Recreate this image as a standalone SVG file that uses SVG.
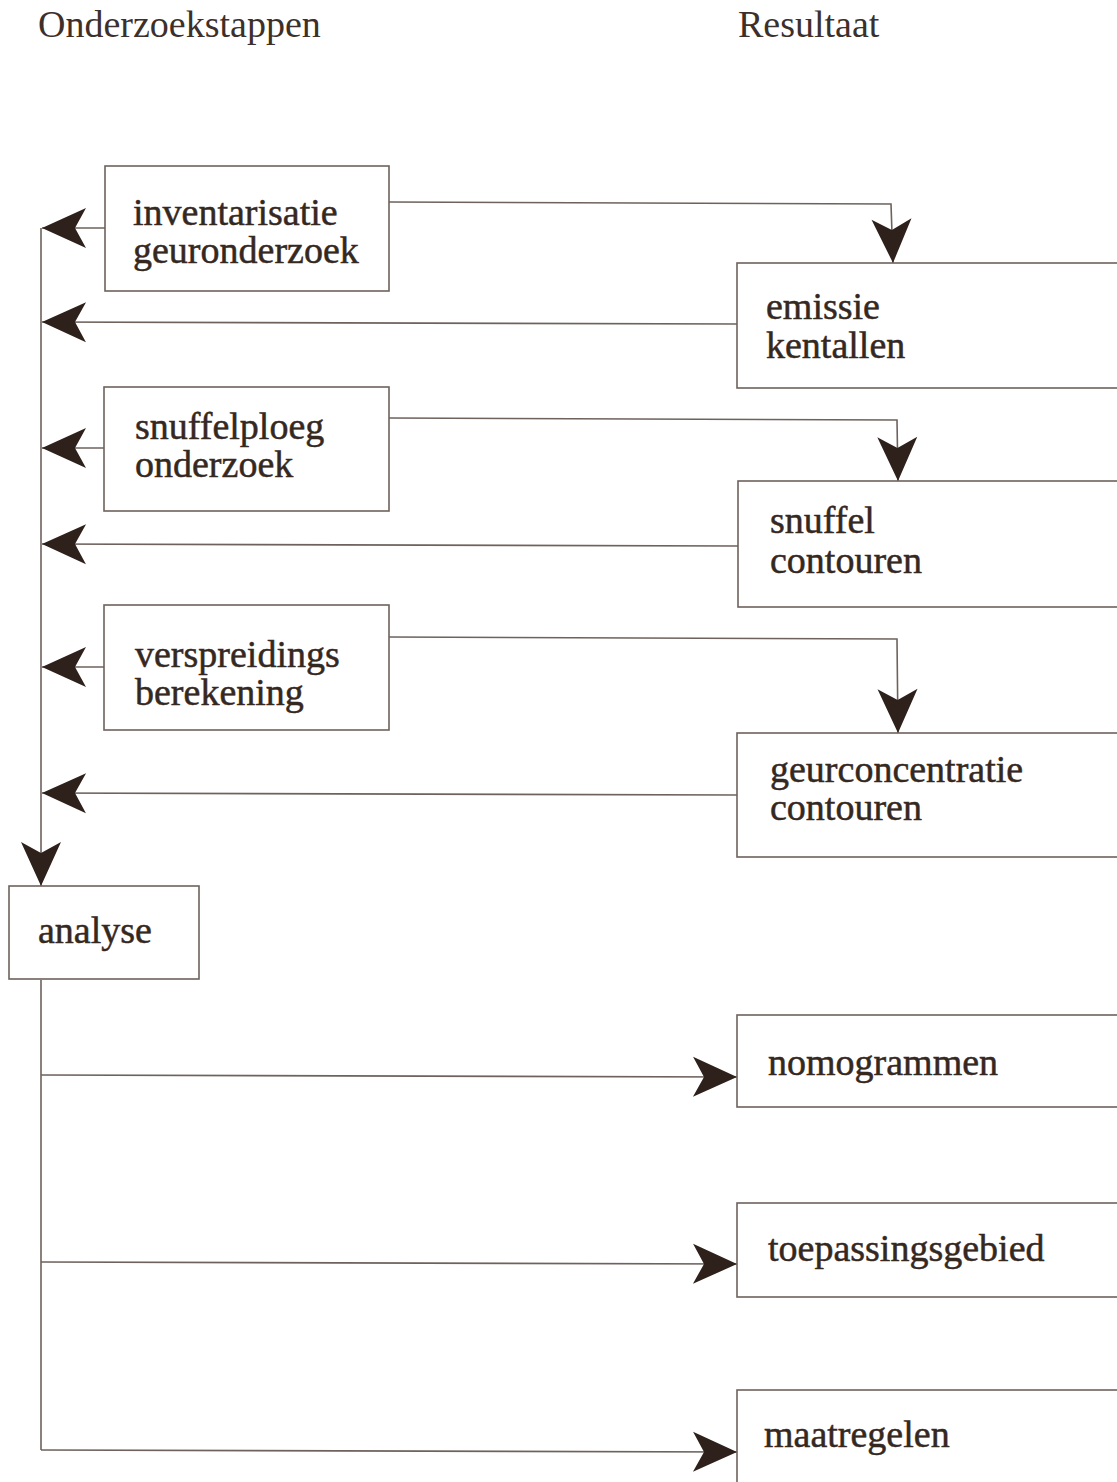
<svg xmlns="http://www.w3.org/2000/svg" width="1117" height="1482" viewBox="0 0 1117 1482">
<style>
  .box { fill: #ffffff; stroke: #6e625c; stroke-width: 1.6; }
  .lbl { font-family: "Liberation Serif", "Times New Roman", serif; font-size: 38px; fill: #35281f; stroke: #35281f; stroke-width: 0.5; }
  .title { font-family: "Liberation Serif", "Times New Roman", serif; font-size: 38px; fill: #3d302a; }
  .con { fill: none; stroke: #6e625c; stroke-width: 1.6; }
</style>
<defs>
  <marker id="arr" viewBox="-46 -22 48 44" refX="0" refY="0" markerWidth="48" markerHeight="44" markerUnits="userSpaceOnUse" orient="auto">
    <path d="M0,0 L-44,-20 L-33,0 L-44,20 Z" fill="#2e211b"/>
  </marker>
</defs>
<rect width="1117" height="1482" fill="#ffffff"/>
<text class="title" x="38" y="37">Onderzoekstappen</text>
<text class="title" x="738" y="37">Resultaat</text>

<g id="connectors">
  <path class="con" d="M105,228 L42,228" marker-end="url(#arr)"/>
  <path class="con" d="M737,324 L42,322" marker-end="url(#arr)"/>
  <path class="con" d="M104,448 L42,448" marker-end="url(#arr)"/>
  <path class="con" d="M738,546 L42,544" marker-end="url(#arr)"/>
  <path class="con" d="M104,667 L42,667" marker-end="url(#arr)"/>
  <path class="con" d="M737,795 L42,793" marker-end="url(#arr)"/>
  <path class="con" d="M41,228 L41,886" marker-end="url(#arr)"/>
  <path class="con" d="M389,202 L891,204 L893,263" marker-end="url(#arr)"/>
  <path class="con" d="M389,418 L897,420 L898,481" marker-end="url(#arr)"/>
  <path class="con" d="M389,637 L897,639 L898,733" marker-end="url(#arr)"/>
  <path class="con" d="M41,980 L41,1450"/>
  <path class="con" d="M41,1075 L737,1077" marker-end="url(#arr)"/>
  <path class="con" d="M41,1262 L737,1264" marker-end="url(#arr)"/>
  <path class="con" d="M41,1450 L737,1452" marker-end="url(#arr)"/>
</g>

<g id="inventarisatie">
  <rect class="box" x="105" y="166" width="284" height="125"/>
  <text class="lbl" x="133" y="225">inventarisatie</text>
  <text class="lbl" x="133" y="263">geuronderzoek</text>
</g>
<g id="emissie">
  <rect class="box" x="737" y="263" width="385" height="125"/>
  <text class="lbl" x="766" y="319">emissie</text>
  <text class="lbl" x="766" y="358">kentallen</text>
</g>
<g id="snuffelploeg">
  <rect class="box" x="104" y="387" width="285" height="124"/>
  <text class="lbl" x="135" y="439">snuffelploeg</text>
  <text class="lbl" x="135" y="477">onderzoek</text>
</g>
<g id="snuffel">
  <rect class="box" x="738" y="481" width="384" height="126"/>
  <text class="lbl" x="770" y="533">snuffel</text>
  <text class="lbl" x="770" y="573">contouren</text>
</g>
<g id="verspreidings">
  <rect class="box" x="104" y="605" width="285" height="125"/>
  <text class="lbl" x="135" y="667">verspreidings</text>
  <text class="lbl" x="135" y="705">berekening</text>
</g>
<g id="geurconcentratie">
  <rect class="box" x="737" y="733" width="385" height="124"/>
  <text class="lbl" x="770" y="782">geurconcentratie</text>
  <text class="lbl" x="770" y="820">contouren</text>
</g>
<g id="analyse">
  <rect class="box" x="9" y="886" width="190" height="93"/>
  <text class="lbl" x="38" y="943">analyse</text>
</g>
<g id="nomogrammen">
  <rect class="box" x="737" y="1015" width="385" height="92"/>
  <text class="lbl" x="768" y="1075">nomogrammen</text>
</g>
<g id="toepassingsgebied">
  <rect class="box" x="737" y="1203" width="385" height="94"/>
  <text class="lbl" x="768" y="1261">toepassingsgebied</text>
</g>
<g id="maatregelen">
  <rect class="box" x="737" y="1390" width="385" height="100"/>
  <text class="lbl" x="764" y="1447">maatregelen</text>
</g>
</svg>
